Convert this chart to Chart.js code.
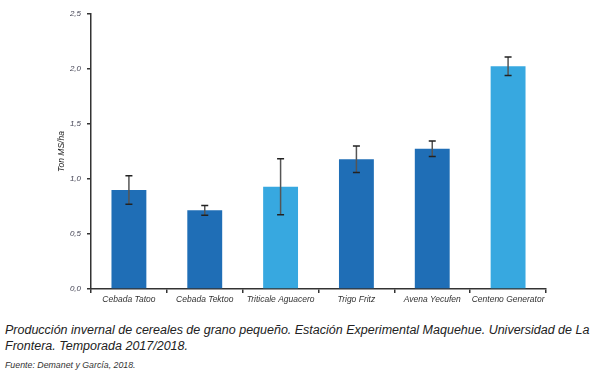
<!DOCTYPE html>
<html>
<head>
<meta charset="utf-8">
<script src="https://cdn.jsdelivr.net/npm/chart.js@4.4.1/dist/chart.umd.min.js"></script>
<style>
  html, body { margin: 0; padding: 0; background: #fff; }
  body { width: 600px; height: 376px; position: relative; overflow: hidden; font-family: "Liberation Sans", Arial, sans-serif; }
  #wrap { position: absolute; left: 0; top: 0; width: 600px; height: 310px; }
  #caption { position: absolute; left: 5px; top: 322px; font-size: 12.5px; font-style: italic; color: #222; line-height: 16px; width: 600px; white-space: nowrap; }
  #source { position: absolute; left: 5px; top: 360px; font-size: 8.8px; font-style: italic; color: #333; }
</style>
</head>
<body>
<div id="wrap"><canvas id="c"></canvas></div>
<div id="caption">Producción invernal de cereales de grano pequeño. Estación Experimental Maquehue. Universidad de La<br>Frontera. Temporada 2017/2018.</div>
<div id="source">Fuente: Demanet y García, 2018.</div>
<script>
const categories = ["Cebada Tatoo", "Cebada Tektoo", "Triticale Aguacero", "Trigo Fritz", "Avena Yecufen", "Centeno Generator"];
const values = [0.90, 0.715, 0.93, 1.18, 1.275, 2.025];
const errors = [0.13, 0.045, 0.255, 0.12, 0.07, 0.085];
const barColors = ["#1f6eb6", "#1f6eb6", "#37a8e0", "#1f6eb6", "#1f6eb6", "#37a8e0"];
const yTicks = [0, 0.5, 1.0, 1.5, 2.0, 2.5];

const errorBarPlugin = {
  id: 'errorBars',
  afterDatasetsDraw(chart) {
    const ctx = chart.ctx;
    const meta = chart.getDatasetMeta(0);
    const y = chart.scales.y;
    ctx.save();
    meta.data.forEach((bar, i) => {
      const x = bar.x;
      const top = y.getPixelForValue(values[i] + errors[i]);
      const bot = y.getPixelForValue(values[i] - errors[i]);
      ctx.strokeStyle = '#555';
      ctx.lineWidth = 1.5;
      ctx.beginPath();
      ctx.moveTo(x, top); ctx.lineTo(x, bot);
      ctx.stroke();
      ctx.strokeStyle = '#222';
      ctx.lineWidth = 1.5;
      ctx.beginPath();
      ctx.moveTo(x - 3.5, top); ctx.lineTo(x + 3.5, top);
      ctx.moveTo(x - 3.5, bot); ctx.lineTo(x + 3.5, bot);
      ctx.stroke();
    });
    ctx.restore();
  }
};

new Chart(document.getElementById('c'), {
  type: 'bar',
  data: {
    labels: categories,
    datasets: [{
      data: values,
      backgroundColor: barColors,
      borderWidth: 0,
      barPercentage: 0.92,
      categoryPercentage: 0.5
    }]
  },
  options: {
    responsive: true,
    maintainAspectRatio: false,
    animation: false,
    devicePixelRatio: 1,
    layout: { padding: { left: 53, right: 54, top: 14, bottom: 0 } },
    plugins: { legend: { display: false }, tooltip: { enabled: false } },
    scales: {
      x: {
        grid: { display: true, drawOnChartArea: false, drawTicks: true, tickLength: 4, color: '#333', lineWidth: 1.5, offset: true },
        border: { display: true, color: '#333', width: 1.5 },
        ticks: { color: '#333', font: { family: 'Liberation Sans', size: 8.5, style: 'italic' }, padding: 2, maxRotation: 0, autoSkip: false },
        afterFit(scale) { scale.height = 21; }
      },
      y: {
        min: 0, max: 2.5,
        afterBuildTicks(scale) { scale.ticks = yTicks.map(v => ({ value: v })); },
        grid: { display: true, drawOnChartArea: false, drawTicks: true, tickLength: 4, color: '#333', lineWidth: 1.5 },
        border: { display: true, color: '#333', width: 1.5 },
        ticks: {
          color: '#445', font: { family: 'Liberation Sans', size: 8, style: 'italic' }, padding: 6,
          callback: (v) => Number(v).toFixed(1).replace('.', ',')
        },
        title: { display: true, text: 'Ton MS/ha', color: '#222', font: { family: 'Liberation Sans', size: 8.5, style: 'italic' }, padding: { top: 4, bottom: 4 } },
        afterFit(scale) { scale.width = 38; }
      }
    }
  },
  plugins: [errorBarPlugin]
});
</script>
</body>
</html>
